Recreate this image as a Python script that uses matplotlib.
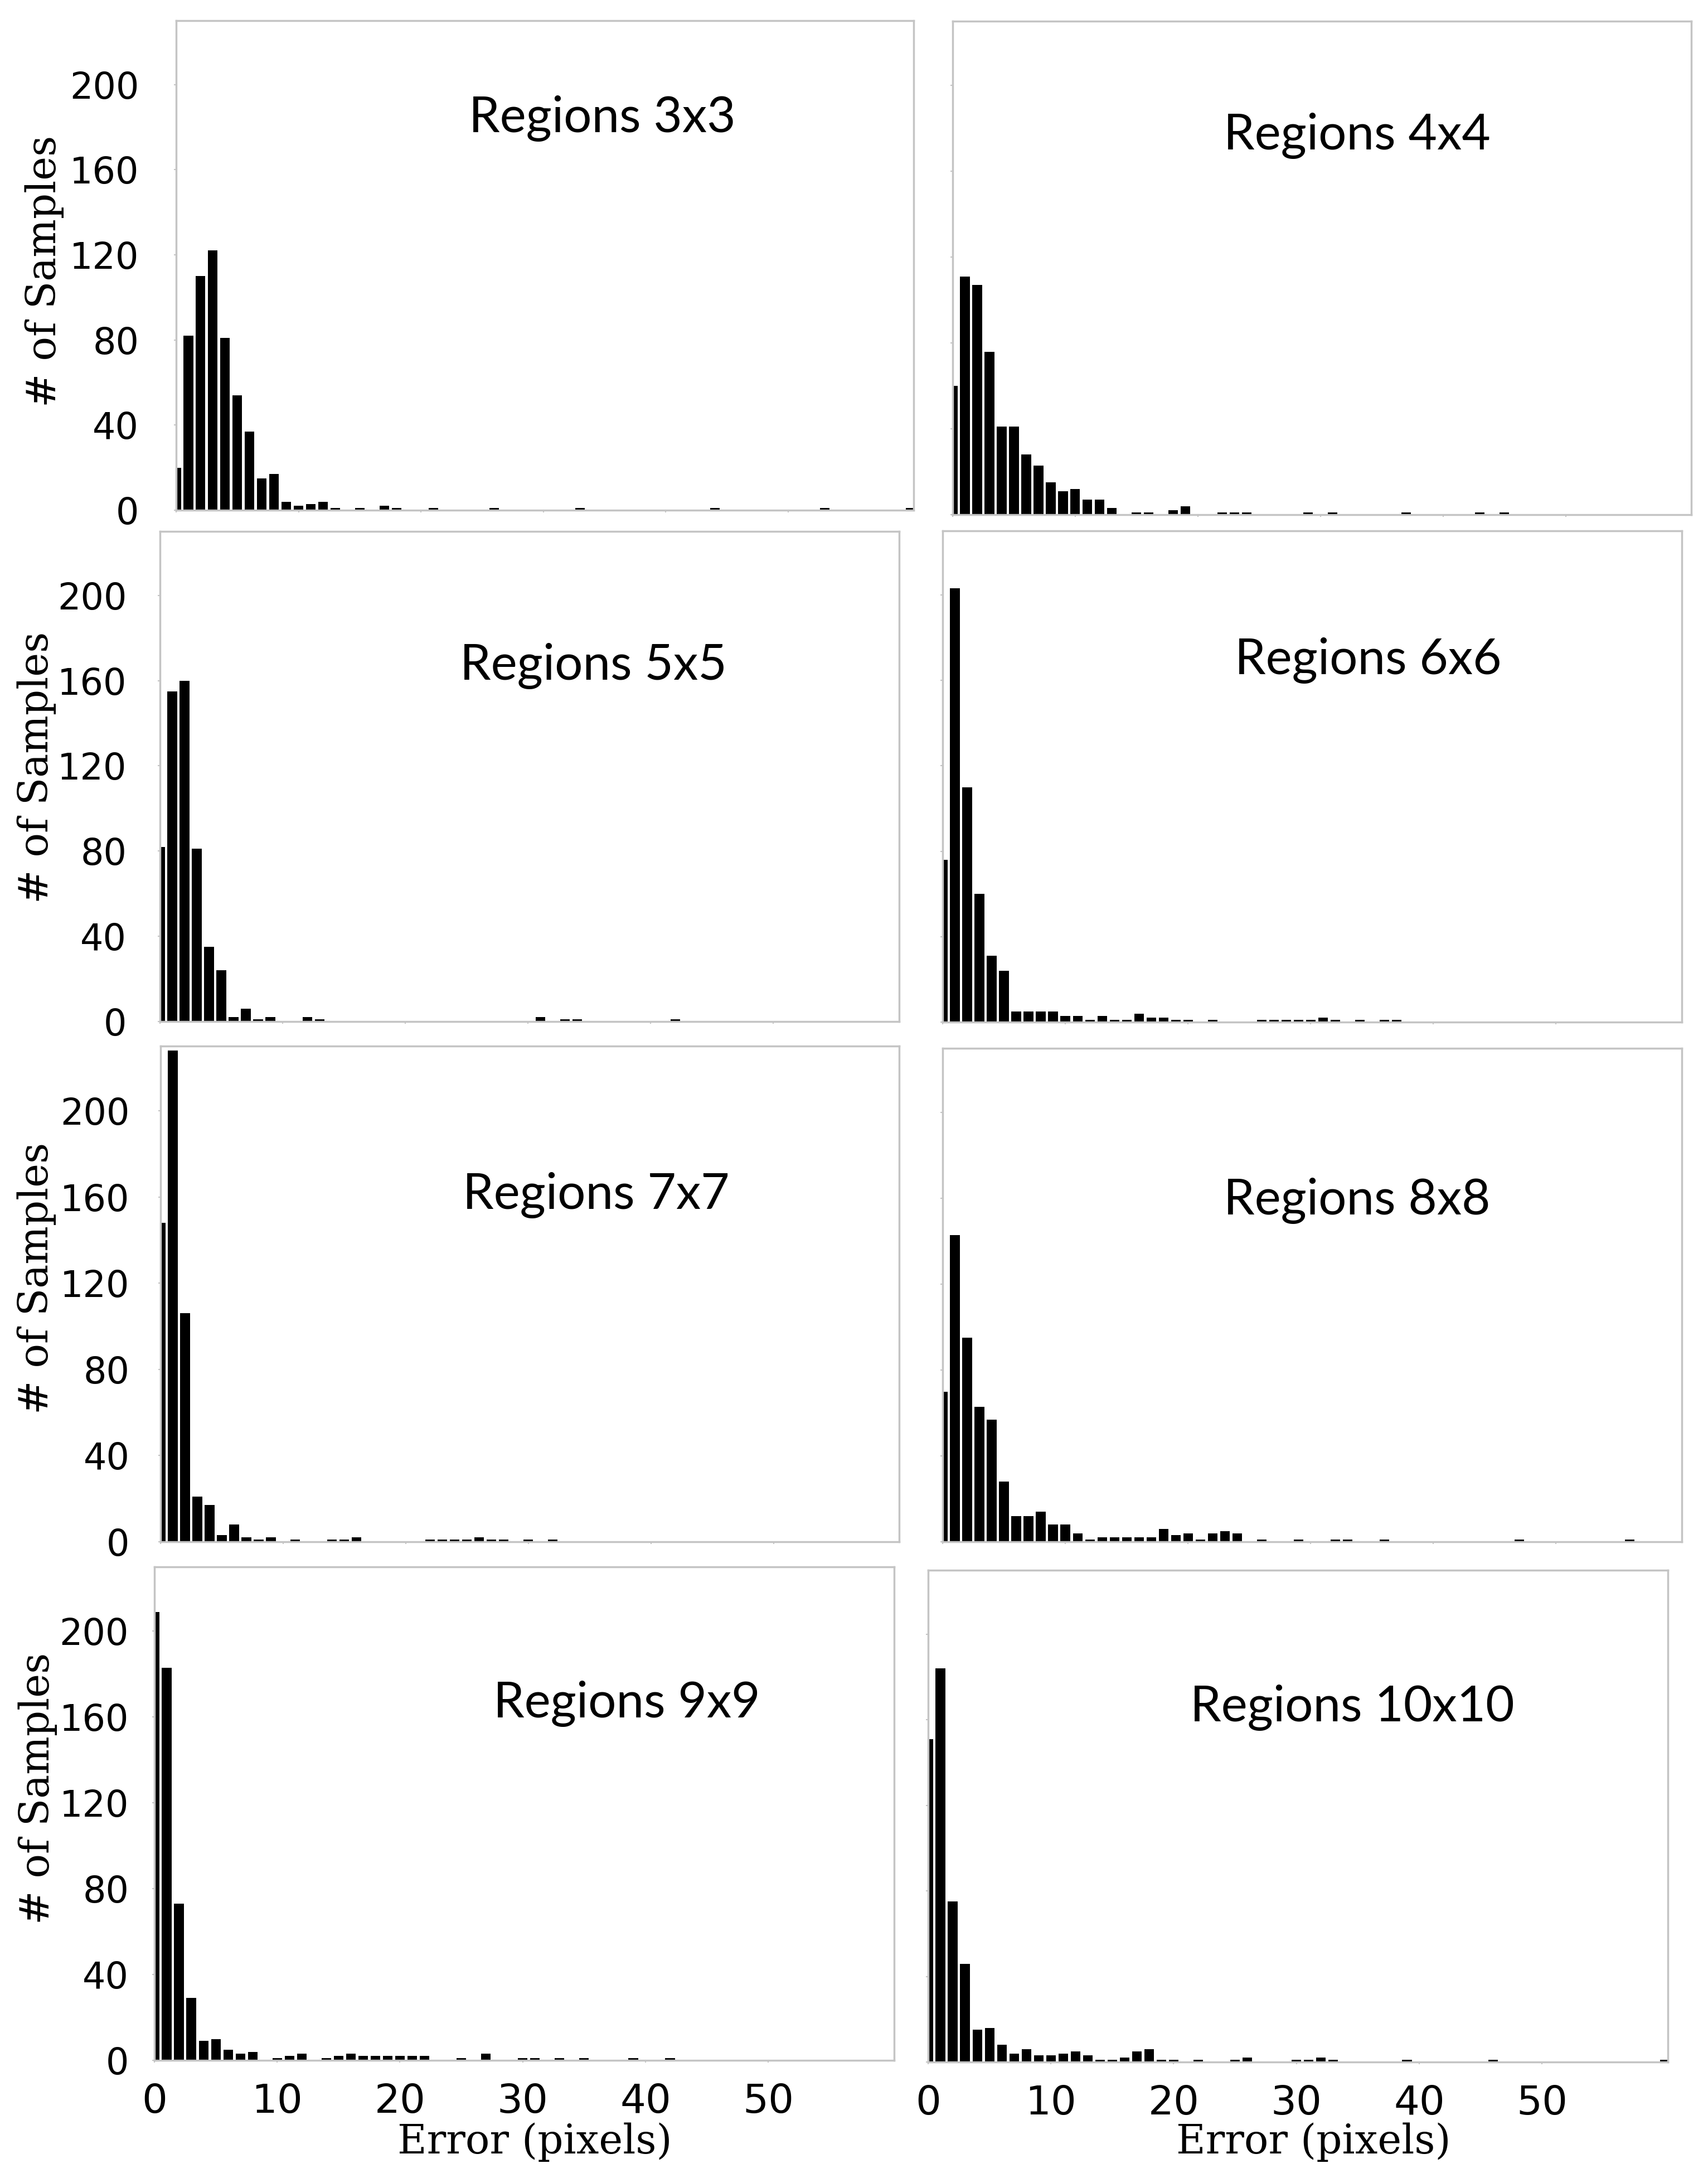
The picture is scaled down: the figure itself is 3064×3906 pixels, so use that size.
import matplotlib
matplotlib.use("Agg")
import matplotlib.pyplot as plt

W, H = 3064, 3906

# error bins (pixels), one bar per integer error value
error_bins = list(range(61))

counts_3x3 = [20, 82, 110, 122, 81, 54, 37, 15, 17, 4,
              2, 3, 4, 1, 0, 1, 0, 2, 1, 0,
              0, 1, 0, 0, 0, 0, 1, 0, 0, 0,
              0, 0, 0, 1, 0, 0, 0, 0, 0, 0,
              0, 0, 0, 0, 1, 0, 0, 0, 0, 0,
              0, 0, 0, 1, 0, 0, 0, 0, 0, 0,
              1]
counts_4x4 = [60, 111, 107, 76, 41, 41, 28, 23, 15, 11,
              12, 7, 7, 3, 0, 1, 1, 0, 2, 4,
              0, 0, 1, 1, 1, 0, 0, 0, 0, 1,
              0, 1, 0, 0, 0, 0, 0, 1, 0, 0,
              0, 0, 0, 1, 0, 1, 0, 0, 0, 0,
              0, 0, 0, 0, 0, 0, 0, 0, 0, 0,
              0]
counts_5x5 = [82, 155, 160, 81, 35, 24, 2, 6, 1, 2,
              0, 0, 2, 1, 0, 0, 0, 0, 0, 0,
              0, 0, 0, 0, 0, 0, 0, 0, 0, 0,
              0, 2, 0, 1, 1, 0, 0, 0, 0, 0,
              0, 0, 1, 0, 0, 0, 0, 0, 0, 0,
              0, 0, 0, 0, 0, 0, 0, 0, 0, 0,
              0]
counts_6x6 = [76, 203, 110, 60, 31, 24, 5, 5, 5, 5,
              3, 3, 1, 3, 1, 1, 4, 2, 2, 1,
              1, 0, 1, 0, 0, 0, 1, 1, 1, 1,
              1, 2, 1, 0, 1, 0, 1, 1, 0, 0,
              0, 0, 0, 0, 0, 0, 0, 0, 0, 0,
              0, 0, 0, 0, 0, 0, 0, 0, 0, 0,
              0]
counts_7x7 = [148, 228, 106, 21, 17, 3, 8, 2, 1, 2,
              0, 1, 0, 0, 1, 1, 2, 0, 0, 0,
              0, 0, 1, 1, 1, 1, 2, 1, 1, 0,
              1, 0, 1, 0, 0, 0, 0, 0, 0, 0,
              0, 0, 0, 0, 0, 0, 0, 0, 0, 0,
              0, 0, 0, 0, 0, 0, 0, 0, 0, 0,
              0]
counts_8x8 = [70, 143, 95, 63, 57, 28, 12, 12, 14, 8,
              8, 4, 1, 2, 2, 2, 2, 2, 6, 3,
              4, 1, 4, 5, 4, 0, 1, 0, 0, 1,
              0, 0, 1, 1, 0, 0, 1, 0, 0, 0,
              0, 0, 0, 0, 0, 0, 0, 1, 0, 0,
              0, 0, 0, 0, 0, 0, 1, 0, 0, 0,
              0]
counts_9x9 = [209, 183, 73, 29, 9, 10, 5, 3, 4, 0,
              1, 2, 3, 0, 1, 2, 3, 2, 2, 2,
              2, 2, 2, 0, 0, 1, 0, 3, 0, 0,
              1, 1, 0, 1, 0, 1, 0, 0, 0, 1,
              0, 0, 1, 0, 0, 0, 0, 0, 0, 0,
              0, 0, 0, 0, 0, 0, 0, 0, 0, 0,
              0]
counts_10x10 = [151, 184, 75, 46, 15, 16, 8, 4, 6, 3,
                3, 4, 5, 3, 1, 1, 2, 5, 6, 1,
                1, 0, 1, 0, 0, 1, 2, 0, 0, 0,
                1, 1, 2, 1, 0, 0, 0, 0, 0, 1,
                0, 0, 0, 0, 0, 0, 1, 0, 0, 0,
                0, 0, 0, 0, 0, 0, 0, 0, 0, 0,
                1]

all_counts = [counts_3x3, counts_4x4, counts_5x5, counts_6x6,
              counts_7x7, counts_8x8, counts_9x9, counts_10x10]
titles = ["Regions 3x3", "Regions 4x4", "Regions 5x5", "Regions 6x6",
          "Regions 7x7", "Regions 8x8", "Regions 9x9", "Regions 10x10"]

# axes boxes in pixels: left, top, right, bottom
boxes = [(316, 37, 1639, 915), (1709, 38, 3034, 923),
         (287, 953, 1613, 1832), (1691, 952, 3017, 1833),
         (288, 1876, 1613, 2765), (1691, 1880, 3017, 2765),
         (277, 2810, 1604, 3695), (1665, 2816, 2992, 3698)]
# title centre x and baseline y, pixels
title_pos = [(1080, 237), (2434, 268), (1064, 1219), (2454, 1209),
             (1069, 2168), (2434, 2178), (1124, 3080), (2426, 3087)]
ylabel_pos = {0: (80, 486), 2: (66, 1376), 4: (66, 2292), 6: (68, 3207)}
ytick_pad = {0: 45, 2: 40, 4: 37, 6: 30}
xlabel_pos = {6: (959, 3862), 7: (2356, 3862)}

spine_col = "#c4c4c4"

fig = plt.figure(figsize=(W / 100, H / 100), dpi=100)

for i in range(8):
    l, t, r, b = boxes[i]
    ax = fig.add_axes([l / W, 1 - b / H, (r - l) / W, (b - t) / H])
    ax.bar(error_bins, all_counts[i], width=0.78, color="black", linewidth=0)
    ax.set_xlim(0, 60.25)
    ax.set_ylim(0, 230)
    ax.set_yticks(range(0, 201, 40))
    ax.set_xticks(range(0, 51, 10))
    for s in ax.spines.values():
        s.set_color(spine_col)
        s.set_linewidth(2.5)

    is_left = (i % 2 == 0)
    is_bottom = (i >= 6)
    ax.tick_params(axis="y", length=3, width=1.5, color=spine_col,
                   labelsize=47, pad=ytick_pad.get(i, 38), labelleft=is_left)
    ax.tick_params(axis="x", length=3, width=1.5, color=spine_col,
                   labelsize=52, pad=26, labelbottom=is_bottom)

    tx, ty = title_pos[i]
    fig.text(tx / W, 1 - ty / H, titles[i], family="Lato", fontsize=64,
             ha="center", va="baseline")

    if i in ylabel_pos:
        yx, yy = ylabel_pos[i]
        fig.text(yx / W, 1 - yy / H, "# of Samples", rotation=90,
                 family="DejaVu Serif", fontsize=52, ha="center", va="center")
    if i in xlabel_pos:
        xx, xy = xlabel_pos[i]
        fig.text(xx / W, 1 - xy / H, "Error (pixels)", family="DejaVu Serif",
                 fontsize=52, ha="center", va="baseline")

fig.savefig("out.png", dpi=100)
